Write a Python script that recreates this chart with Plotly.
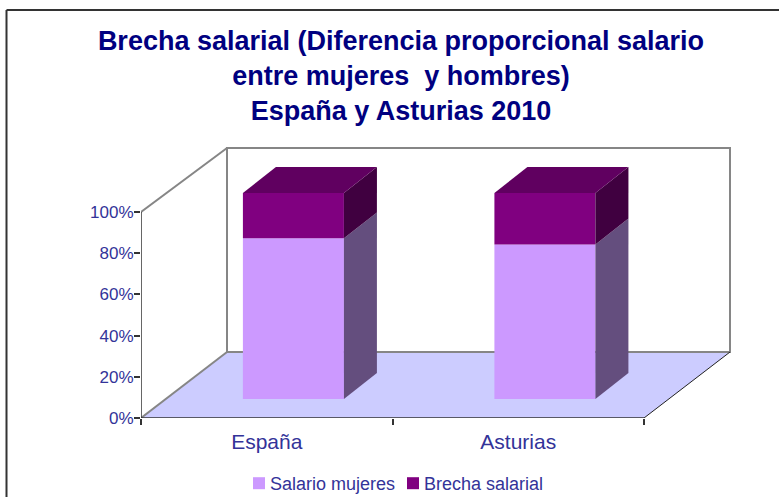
import plotly.graph_objects as go

categories = ["España", "Asturias"]
salario_mujeres = [78, 75]
brecha_salarial = [22, 25]
y_ticks = [0, 20, 40, 60, 80, 100]

TITLE = ("Brecha salarial (Diferencia proporcional salario<br>"
         "entre mujeres  y hombres)<br>España y Asturias 2010")

# plot-area pixel frame
W, H = 779, 497
L, R, T, B = 141, 735, 143, 418
UX = 251.5   # px per category
UY = 2.06    # px per percent
WALL_DX, WALL_DY, WALL_TOP = 86 / UX, 66 / UY, 99
BAR_DX, BAR_DY = 33 / UX, 12.6
BAR_W = 101 / UX
BAR_SHIFT_X, BAR_BASE = 0.106, 9.2


def px(x):
    return (x - L) / (R - L)


def py(y):
    return (B - y) / (B - T)


n = len(categories)
fig = go.Figure()

pos = [i + 0.5 + BAR_SHIFT_X for i in range(n)]
base2 = [BAR_BASE + v for v in salario_mujeres]

fig.add_trace(go.Bar(x=pos, y=salario_mujeres, base=[BAR_BASE] * n, width=BAR_W,
                     name="Salario mujeres", marker=dict(color="#cc99ff", line_width=0)))
fig.add_trace(go.Bar(x=pos, y=brecha_salarial, base=base2, width=BAR_W,
                     name="Brecha salarial", marker=dict(color="#800080", line_width=0)))


def face(xs, ys, color):
    fig.add_trace(go.Scatter(x=xs, y=ys, mode="none", fill="toself", fillcolor=color,
                             showlegend=False, hoverinfo="skip"))


for i in range(n):
    x1 = pos[i] + BAR_W / 2
    x0 = pos[i] - BAR_W / 2
    y0 = BAR_BASE
    y1 = y0 + salario_mujeres[i]
    y2 = y1 + brecha_salarial[i]
    face([x1, x1 + BAR_DX, x1 + BAR_DX, x1, x1], [y0, y0 + BAR_DY, y1 + BAR_DY, y1, y0], "#644e7e")
    face([x1, x1 + BAR_DX, x1 + BAR_DX, x1, x1], [y1, y1 + BAR_DY, y2 + BAR_DY, y2, y1], "#400040")
    face([x0, x1, x1 + BAR_DX, x0 + BAR_DX, x0], [y2, y2, y2 + BAR_DY, y2 + BAR_DY, y2], "#600060")

# axis lines
fig.add_trace(go.Scatter(x=[0, 0], y=[0, 100], mode="lines", line=dict(color="#333333", width=1.5),
                         showlegend=False, hoverinfo="skip", cliponaxis=False))
fig.add_trace(go.Scatter(x=[0, n], y=[0, 0], mode="lines", line=dict(color="#333333", width=1.5),
                         showlegend=False, hoverinfo="skip", cliponaxis=False))

grey = dict(color="#868686", width=2)
shapes = [
    # floor
    dict(type="path", path=f"M0,0 L{n},0 L{n + WALL_DX},{WALL_DY} L{WALL_DX},{WALL_DY} Z",
         fillcolor="#ccccff", line_width=0, layer="below"),
    # back wall
    dict(type="rect", x0=WALL_DX, x1=n + WALL_DX, y0=WALL_DY, y1=WALL_DY + WALL_TOP,
         line=grey, fillcolor="rgba(0,0,0,0)", layer="below"),
    # left wall edges
    dict(type="line", x0=0, y0=0, x1=WALL_DX, y1=WALL_DY, line=grey, layer="below"),
    dict(type="line", x0=0, y0=100, x1=WALL_DX, y1=WALL_DY + WALL_TOP, line=grey, layer="below"),
    # right floor edge
    dict(type="line", x0=n, y0=0, x1=n + WALL_DX, y1=WALL_DY, line=dict(color="#222222", width=1), layer="below"),
    # outer frame (top and left edges visible)
    dict(type="line", xref="paper", yref="paper", x0=px(6.5), x1=px(779), y0=py(10), y1=py(10),
         line=dict(color="#333333", width=2)),
    dict(type="line", xref="paper", yref="paper", x0=px(6.5), x1=px(6.5), y0=py(10), y1=py(497),
         line=dict(color="#333333", width=2)),
]

axis_font = dict(family="Liberation Sans, Arial, sans-serif", size=17, color="#333399")

fig.update_layout(
    width=W, height=H,
    margin=dict(l=L, r=W - R, t=T, b=H - B, pad=0, autoexpand=False),
    paper_bgcolor="white", plot_bgcolor="white",
    barmode="overlay",
    shapes=shapes,
    title=dict(text=TITLE, x=401 / W, xref="container", xanchor="center",
               y=1 - 50 / H, yref="container", yanchor="top",
               font=dict(family="Liberation Sans, Arial, sans-serif", size=27, color="#000080", weight="bold")),
    xaxis=dict(range=[0, (R - L) / UX], tickvals=[i + 0.5 for i in range(n)], ticktext=categories,
               ticks="", showgrid=False, zeroline=False, showline=False, tickfont=dict(axis_font, size=21),
               ticklabelstandoff=9,
               minor=dict(tickvals=list(range(n + 1)), ticks="outside", ticklen=6, tickcolor="#333333",
                          tickwidth=1.5, showgrid=False)),
    yaxis=dict(range=[0, (B - T) / UY], tickvals=y_ticks, ticktext=[f"{v}%" for v in y_ticks],
               ticks="outside", ticklen=6, tickcolor="#333333", tickwidth=1.5, showgrid=False,
               zeroline=False, showline=False, tickfont=axis_font, ticklabelstandoff=-3),
    legend=dict(orientation="h", x=px(230), xanchor="left", y=py(465), yanchor="top",
                font=dict(axis_font, size=18), traceorder="normal", entrywidth=109, entrywidthmode="pixels",
                bgcolor="rgba(0,0,0,0)"),
    showlegend=True,
)

# Page margin off; legend swatches sit right next to their text, as in the reference;
# the fixed entry width must not clip the last legend label.
post = ("document.body.style.margin='0';"
        "document.querySelectorAll('.legendpoints').forEach(function(g){"
        "g.setAttribute('transform','translate(9,0)');});"
        "document.querySelectorAll('.legend .scrollbox, .legend .legendtoggle').forEach(function(g){"
        "g.removeAttribute('clip-path');g.style.clipPath='none';});")
fig.write_html("out.html", post_script=post, config={"displayModeBar": False})
